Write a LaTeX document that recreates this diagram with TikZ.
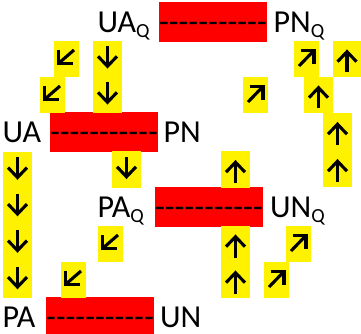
\documentclass[tikz,border=0pt]{standalone}
\usepackage{fontspec}
\setmainfont{Carlito}
\newcommand{\dsh}{\mbox{-}}
\newcommand{\dashrow}{\dsh\dsh\dsh\dsh\dsh\dsh\dsh\dsh\dsh\dsh\dsh}
\newcommand{\qsub}{\raisebox{-5pt}{\fontsize{20}{20}\selectfont Q}}
\tikzset{
  lbl/.style={anchor=base west, inner sep=0pt, font=\fontsize{32}{38}\selectfont},
  redbox/.style={fill=red, minimum width=108pt, inner sep=0pt, text height=30.5pt, text depth=9.5pt, font=\fontsize{32}{38}\selectfont},
  ybox/.style={fill=yellow, minimum height=36.6pt, inner sep=0pt},
  vbox/.style={ybox, minimum width=29pt},
  dbox/.style={ybox, minimum width=25pt},
  arrline/.style={line width=3.1pt, line cap=butt, line join=miter, black},
  dn/.style={vbox, path picture={\begin{scope}[shift={(path picture bounding box.center)},x=1pt,y=1pt]
      \draw[arrline] (0,13)--(0,-6.5);
      \draw[arrline] (-9.5,2.7)--(0,-7.3)--(9.5,2.7);\end{scope}}},
  upa/.style={vbox, path picture={\begin{scope}[shift={(path picture bounding box.center)},x=1pt,y=1pt]
      \draw[arrline] (0,-13.5)--(0,6.5);
      \draw[arrline] (-9.5,-2.7)--(0,7.3)--(9.5,-2.7);\end{scope}}},
  nea/.style={dbox, path picture={\begin{scope}[shift={(path picture bounding box.center)},x=1pt,y=1pt]
      \draw[arrline] (-7.5,-7)--(7,8);
      \draw[arrline] (-6,8.5)--(7.5,8.5)--(7.5,-5);\end{scope}}},
  swa/.style={dbox, path picture={\begin{scope}[shift={(path picture bounding box.center)},x=1pt,y=1pt]
      \draw[arrline] (7.5,9)--(-7.5,-4);
      \draw[arrline] (-8,9)--(-8,-4.5)--(6,-4.5);\end{scope}}},
}
\begin{document}
\begin{tikzpicture}[x=1pt,y=-1pt]
\useasboundingbox (0,0) rectangle (361,334);
% red boxes with dashes
\node[redbox] (r1) at (213,22) {\dashrow};
\node[redbox] (r2) at (104,132) {\dashrow};
\node[redbox] (r3) at (209,207) {\dashrow};
\node[redbox] (r4) at (100,317) {\dashrow};
% labels
\node[lbl] (uaq) at (97.5,33) {UA\qsub};
\node[lbl] (pnq) at (273.5,33) {PN\qsub};
\node[lbl] (ua) at (2.5,142.5) {UA};
\node[lbl] (pn) at (163.5,142.5) {PN};
\node[lbl] (paq) at (97.5,217) {PA\qsub};
\node[lbl] (unq) at (270,217) {UN\qsub};
\node[lbl] (pa) at (2.5,327) {PA};
\node[lbl] (un) at (160,327) {UN};
% down arrows
\node[dn] (d1) at (107.5,59) {};
\node[dn] (d2) at (107.5,95) {};
\node[dn] (d3) at (17.5,170.25) {};
\node[dn] (d4) at (17.5,206.75) {};
\node[dn] (d5) at (17.5,243.25) {};
\node[dn] (d6) at (17.5,279.75) {};
\node[dn] (d7) at (126.5,169.5) {};
% up arrows
\node[upa] (u1) at (347,59) {};
\node[upa] (u2) at (318.5,95) {};
\node[upa] (u3) at (337.5,131.5) {};
\node[upa] (u4) at (337.5,168.5) {};
\node[upa] (u5) at (235.5,169.5) {};
\node[upa] (u6) at (235.5,244) {};
\node[upa] (u7) at (235.5,280) {};
% diagonal arrows
\node[swa] (s1) at (66.5,59) {};
\node[swa] (s2) at (52.5,95) {};
\node[swa] (s3) at (110.5,244) {};
\node[swa] (s4) at (73.5,280) {};
\node[nea] (n1) at (306.5,59) {};
\node[nea] (n2) at (255.5,95) {};
\node[nea] (n3) at (298.5,244) {};
\node[nea] (n4) at (276.5,280) {};
\end{tikzpicture}
\end{document}
